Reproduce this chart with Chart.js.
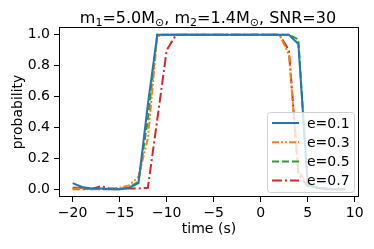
<!DOCTYPE html>
<html>
<head>
<meta charset="utf-8">
<script src="https://cdn.jsdelivr.net/npm/chart.js@4/dist/chart.umd.min.js"></script>
<style>
  html, body { margin: 0; padding: 0; background: #fff; }
  #wrap { width: 374px; height: 249px; }
</style>
</head>
<body>
<div id="wrap"><canvas id="myChart"></canvas></div>
<script>
// time axis (s)
var times = [-20,-19,-18,-17,-16,-15,-14,-13,-12,-11,-10,-9,-8,-7,-6,-5,-4,-3,-2,-1,0,1,2,3,4,5,6,7,8,9];
var e01 = [0.04,0.015,0.005,0.005,0.0,0.0,0.01,0.04,0.55,1.0,1.0,1.0,1.0,1.0,1.0,1.0,1.0,1.0,1.0,1.0,1.0,1.0,1.0,1.0,0.94,0.03,0.01,0.0,0.0,0.0];
var e03 = [0.0,0.01,0.0,0.0,0.005,0.01,0.025,0.08,0.33,0.99,1.0,1.0,1.0,1.0,1.0,1.0,1.0,1.0,1.0,1.0,1.0,1.0,1.0,0.87,0.12,0.03,0.01,0.0,0.0,0.0];
var e05 = [0.0,0.0,0.005,0.0,0.0,0.0,0.01,0.05,0.45,1.0,1.0,1.0,1.0,1.0,1.0,1.0,1.0,1.0,1.0,1.0,1.0,1.0,1.0,1.0,0.97,0.02,0.01,0.0,0.0,0.0];
var e07 = [0.01,0.01,0.0,0.02,0.005,0.005,0.005,0.005,0.01,0.45,0.9,1.0,1.0,1.0,1.0,1.0,1.0,1.0,1.0,1.0,1.0,1.0,1.0,0.9,0.1,0.02,0.01,0.005,0.0,0.0];
var labels = ['e=0.1', 'e=0.3', 'e=0.5', 'e=0.7'];
var xTicks = [-20, -15, -10, -5, 0, 5, 10];
var yTicks = [0.0, 0.2, 0.4, 0.6, 0.8, 1.0];

var FONT = 'DejaVu Sans';

function pts(ys) {
    return times.map(function (t, i) { return { x: t, y: ys[i] }; });
}

var styles = [
    { color: '#1f77b4', dash: [] },
    { color: '#ff7f0e', dash: [7, 2, 2, 2, 2, 2] },
    { color: '#2ca02c', dash: [7, 3] },
    { color: '#d62728', dash: [10, 3, 2, 3] }
];
var series = [e01, e03, e05, e07];

var datasets = series.map(function (s, i) {
    return {
        label: labels[i],
        data: pts(s),
        borderColor: styles[i].color,
        borderDash: styles[i].dash,
        borderWidth: 2,
        pointRadius: 0,
        tension: 0,
        fill: false
    };
});

// title with subscripts, frame, and legend box
var extras = {
    id: 'extras',
    afterDatasetsDraw: function (chart) {
        var c = chart.ctx, a = chart.chartArea;
        c.save();
        c.strokeStyle = '#000';
        c.lineWidth = 1;
        c.strokeRect(Math.round(a.left) + 0.5, Math.round(a.top) + 0.5,
            Math.round(a.right - a.left) - 1, Math.round(a.bottom - a.top) - 1);

        // legend
        var lx = 267, ly = 112, lw = 87, lh = 80;
        c.fillStyle = 'rgba(255,255,255,0.8)';
        c.strokeStyle = '#d0d0d0';
        c.beginPath();
        c.roundRect(lx + 0.5, ly + 0.5, lw, lh, 3);
        c.fill();
        c.stroke();
        c.font = '14px ' + FONT;
        c.textBaseline = 'middle';
        c.textAlign = 'left';
        chart.data.datasets.forEach(function (d, i) {
            var y = 123 + i * 19.2;
            c.strokeStyle = d.borderColor;
            c.lineWidth = 2;
            c.setLineDash(d.borderDash);
            c.beginPath();
            c.moveTo(272, y);
            c.lineTo(299, y);
            c.stroke();
            c.setLineDash([]);
            c.fillStyle = '#000';
            c.fillText(d.label, 307, y + 1);
        });

        // title
        var parts = [['m', 0], ['1', 1], ['=5.0M', 0], ['\u2299', 1], [', m', 0], ['2', 1], ['=1.4M', 0], ['\u2299', 1], [', SNR=30', 0]];
        var big = '16px ' + FONT, small = '11px ' + FONT;
        var total = 0;
        parts.forEach(function (p) {
            c.font = p[1] ? small : big;
            total += c.measureText(p[0]).width;
        });
        var x = 208 - total / 2;
        c.fillStyle = '#000';
        c.textBaseline = 'alphabetic';
        parts.forEach(function (p) {
            c.font = p[1] ? small : big;
            c.fillText(p[0], x, p[1] ? 25.5 : 22.5);
            x += c.measureText(p[0]).width;
        });
        c.restore();
    }
};

var ctx = document.getElementById('myChart').getContext('2d');
var myChart = new Chart(ctx, {
    type: 'line',
    data: { datasets: datasets },
    options: {
        responsive: true,
        maintainAspectRatio: false,
        animation: false,
        layout: { padding: { top: 27, right: 15, left: 0, bottom: 0 } },
        plugins: {
            legend: { display: false },
            tooltip: { enabled: false }
        },
        scales: {
            x: {
                type: 'linear',
                min: -21.45,
                max: 10.45,
                afterBuildTicks: function (s) { s.ticks = xTicks.map(function (v) { return { value: v }; }); },
                afterFit: function (s) { s.height = 52; },
                grid: { drawOnChartArea: false, drawTicks: true, tickLength: 5, color: '#000' },
                border: { display: false },
                ticks: {
                    padding: 3,
                    maxRotation: 0,
                    color: '#000',
                    font: { family: FONT, size: 14 },
                    callback: function (v) { return v < 0 ? '\u2212' + Math.abs(v) : String(v); }
                },
                title: {
                    display: true,
                    text: 'time (s)',
                    color: '#000',
                    font: { family: FONT, size: 14 },
                    padding: { top: 0, bottom: 11 }
                }
            },
            y: {
                min: -0.05,
                max: 1.05,
                afterBuildTicks: function (s) { s.ticks = yTicks.map(function (v) { return { value: v }; }); },
                afterFit: function (s) { s.width = 59; },
                grid: { drawOnChartArea: false, drawTicks: true, tickLength: 5, color: '#000' },
                border: { display: false },
                ticks: {
                    padding: 4,
                    color: '#000',
                    font: { family: FONT, size: 14 },
                    callback: function (v) { return v.toFixed(1); }
                },
                title: {
                    display: true,
                    text: 'probability',
                    color: '#000',
                    font: { family: FONT, size: 14 },
                    padding: { top: 10, bottom: 0 }
                }
            }
        }
    },
    plugins: [extras]
});
</script>
</body>
</html>
